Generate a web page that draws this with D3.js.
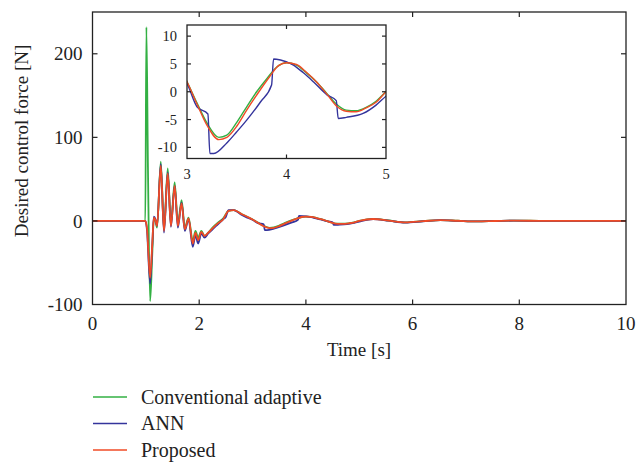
<!DOCTYPE html>
<meta charset="utf-8">
<head>
<style>
  body { margin: 0; background: #fff; }
  svg { font-family: "Liberation Serif", "DejaVu Serif", serif; }
  .frame { fill: none; stroke: #222; stroke-width: 1.3px; }
  .tick-mark { stroke: #222; stroke-width: 1.2px; }
  .lbl { fill: #222; }
</style>
</head>
<body>
<div id="graph"></div>
<script src="https://d3js.org/d3.v7.min.js"></script>
<script>

// Conventional adaptive
var convT = [0, 0.99, 1.01, 1.04, 1.08, 1.12, 1.15, 1.18, 1.21, 1.28, 1.34, 1.41, 1.47, 1.54, 1.6, 1.67, 1.73, 1.8, 1.88, 1.93, 1.98, 2.04, 2.1, 2.17, 2.25, 2.35, 2.45, 2.55, 2.65, 2.8, 2.9,
  3.0, 3.1, 3.2, 3.32, 3.4, 3.5, 3.6, 3.7, 3.8, 3.9, 4.0, 4.1, 4.2, 4.3, 4.4, 4.5, 4.6, 4.7, 4.8, 4.9, 5.0,
  5.26, 5.55, 5.86, 6.2, 6.52, 6.85, 7.2, 7.55, 7.9, 8.5, 10];
var convF = [0, 0, 232, 60, -96, -40, 3, 0, -8, 71, -10, 63, -3, 46, -3, 25, -8, 4, -24, -12, -20, -12, -18, -14, -8, -2, 3, 12, 13, 8, 5,
  1.8, -2, -5.6, -8.2, -7.8, -5.5, -2.7, 0, 2.3, 4.4, 5.2, 4.8, 3.4, 1.8, -0.2, -2.2, -3.3, -3.4, -2.8, -1.7, 0,
  2.4, 0.5, -1.8, -0.3, 1, 0.2, -0.6, -0.1, 0.4, 0, 0];

// ANN
var annT = [0, 0.99, 1.02, 1.08, 1.12, 1.15, 1.18, 1.21, 1.28, 1.34, 1.41, 1.47, 1.54, 1.6, 1.67, 1.73, 1.8, 1.88, 1.93, 1.98, 2.04, 2.1, 2.17, 2.25, 2.35, 2.45, 2.5, 2.55, 2.65, 2.8, 2.9,
  3.0, 3.1, 3.21, 3.23, 3.27, 3.4, 3.5, 3.6, 3.74, 3.85, 3.87, 3.94, 4.07, 4.17, 4.27, 4.41, 4.5, 4.52, 4.6, 4.77, 4.9, 5.0,
  5.26, 5.55, 5.86, 6.2, 6.52, 6.85, 7.2, 7.55, 7.9, 8.5, 10];
var annF = [0, 0, -10, -75, -30, 5, 2, -6, 68, -14, 58, -7, 42, -8, 22, -12, 2, -31, -17, -27, -15, -20, -15, -10, -4, 2, 5, 13, 13, 7, 4,
  1.5, -2.7, -4, -11.1, -11.1, -9.2, -7.2, -5.1, -1.8, 1.2, 5.9, 5.7, 4.8, 3.4, 1.8, -0.6, -1.6, -4.8, -4.6, -3.9, -2.4, -0.8,
  2.2, 0.3, -2, -0.4, 0.9, 0.1, -0.6, -0.1, 0.3, 0, 0];

// Proposed
var propT = [0, 0.99, 1.02, 1.08, 1.12, 1.15, 1.18, 1.21, 1.28, 1.34, 1.41, 1.47, 1.54, 1.6, 1.67, 1.73, 1.8, 1.88, 1.93, 1.98, 2.04, 2.1, 2.17, 2.25, 2.35, 2.45, 2.55, 2.65, 2.8, 2.9,
  3.0, 3.1, 3.2, 3.32, 3.4, 3.5, 3.6, 3.7, 3.83, 3.92, 4.0, 4.1, 4.2, 4.3, 4.4, 4.51, 4.6, 4.7, 4.8, 4.9, 5.0,
  5.26, 5.55, 5.86, 6.2, 6.52, 6.85, 7.2, 7.55, 7.9, 8.5, 10];
var propF = [0, 0, -8, -68, -28, 4, 1, -6, 66, -12, 57, -6, 42, -6, 21, -10, 3, -27, -14, -23, -13, -18, -14, -9, -3, 2, 12, 13, 8, 5,
  1.8, -2.2, -6, -8.6, -8.2, -6.2, -3.3, -0.6, 2.7, 4.7, 5.2, 4.9, 3.5, 1.8, -0.3, -2.7, -3.5, -3.6, -2.9, -1.9, 0,
  2.3, 0.4, -1.8, -0.3, 1, 0.2, -0.6, -0.1, 0.4, 0, 0];

var seriesNames = ["Conventional adaptive", "ANN", "Proposed"];
var seriesColors = ["#33b043", "#34349c", "#f04b26"];

var xTicks = [0, 2, 4, 6, 8, 10];
var yTicks = [-100, 0, 100, 200];
var insetXTicks = [3, 4, 5];
var insetYTicks = [-10, -5, 0, 5, 10];

var series = [
  {name: seriesNames[0], color: seriesColors[0], pts: d3.zip(convT, convF)},
  {name: seriesNames[1], color: seriesColors[1], pts: d3.zip(annT, annF)},
  {name: seriesNames[2], color: seriesColors[2], pts: d3.zip(propT, propF)}
];

var W = 638, H = 465;
var svg = d3.select("#graph").append("svg")
  .attr("width", W)
  .attr("height", H);

// main plot
var x = d3.scaleLinear().domain([0, 10]).range([92.5, 626]);
var y = d3.scaleLinear().domain([-100, 250]).range([304.5, 12]);

function boxAxes(g, xs, ys, xt, yt, tickLen, fontSize, xPad, yPad) {
  var x0 = xs.range()[0], x1 = xs.range()[1];
  var y0 = ys.range()[0], y1 = ys.range()[1];
  xt.forEach(function(v){
    var px = xs(v);
    if (v != xs.domain()[0] && v != xs.domain()[1]) {
      g.append("line").attr("class", "tick-mark").attr("x1", px).attr("x2", px).attr("y1", y0).attr("y2", y0 - tickLen);
      g.append("line").attr("class", "tick-mark").attr("x1", px).attr("x2", px).attr("y1", y1).attr("y2", y1 + tickLen);
    }
    g.append("text").attr("class", "lbl")
      .attr("x", px).attr("y", y0 + yPad)
      .attr("text-anchor", "middle")
      .style("font-size", fontSize + "px")
      .text(v);
  });
  yt.forEach(function(v){
    var py = ys(v);
    if (v != ys.domain()[0]) {
      g.append("line").attr("class", "tick-mark").attr("x1", x0).attr("x2", x0 + tickLen).attr("y1", py).attr("y2", py);
      g.append("line").attr("class", "tick-mark").attr("x1", x1).attr("x2", x1 - tickLen).attr("y1", py).attr("y2", py);
    }
    g.append("text").attr("class", "lbl")
      .attr("x", x0 - xPad).attr("y", py)
      .attr("dy", "0.35em")
      .attr("text-anchor", "end")
      .style("font-size", fontSize + "px")
      .text(v);
  });
  g.append("rect").attr("class", "frame")
    .attr("x", x0).attr("y", y1)
    .attr("width", x1 - x0).attr("height", y0 - y1);
}

svg.append("clipPath").attr("id", "mainclip")
  .append("rect").attr("x", 92.5).attr("y", 12).attr("width", 626 - 92.5).attr("height", 304.5 - 12);

var line = d3.line()
  .x(function(d){ return x(d[0]); })
  .y(function(d){ return y(d[1]); })
  .curve(d3.curveMonotoneX);

var plot = svg.append("g").attr("clip-path", "url(#mainclip)");
series.forEach(function(s){
  plot.append("path")
    .datum(s.pts)
    .attr("fill", "none")
    .attr("stroke", s.color)
    .attr("stroke-width", 1.8)
    .attr("stroke-linejoin", "round")
    .attr("d", line);
});

boxAxes(svg.append("g"), x, y, xTicks, yTicks, 5, 19, 10, 25);

svg.append("text").attr("class", "lbl")
  .attr("x", 359).attr("y", 356)
  .attr("text-anchor", "middle")
  .style("font-size", "19px")
  .text("Time [s]");

svg.append("text").attr("class", "lbl")
  .attr("transform", "translate(28,141) rotate(-90)")
  .attr("text-anchor", "middle")
  .style("font-size", "19px")
  .text("Desired control force [N]");

// inset
var ix = d3.scaleLinear().domain([3, 5]).range([187, 386]);
var iy = d3.scaleLinear().domain([-12, 12]).range([158.5, 25]);

svg.append("rect")
  .attr("x", 187).attr("y", 25).attr("width", 199).attr("height", 133.5)
  .attr("fill", "#fff");

svg.append("clipPath").attr("id", "insetclip")
  .append("rect").attr("x", 187).attr("y", 25).attr("width", 199).attr("height", 133.5);

var iline = d3.line()
  .x(function(d){ return ix(d[0]); })
  .y(function(d){ return iy(d[1]); })
  .curve(d3.curveMonotoneX);

var inset = svg.append("g").attr("clip-path", "url(#insetclip)");
series.forEach(function(s){
  inset.append("path")
    .datum(s.pts.filter(function(d){ return d[0] >= 2.8 && d[0] <= 5.3; }))
    .attr("fill", "none")
    .attr("stroke", s.color)
    .attr("stroke-width", 1.4)
    .attr("d", iline);
});

boxAxes(svg.append("g"), ix, iy, insetXTicks, insetYTicks, 4, 14.5, 10, 20);

// legend
var legend = svg.append("g");
series.forEach(function(s, i){
  var ly = 397 + i * 26.5;
  legend.append("line")
    .attr("x1", 93).attr("x2", 127)
    .attr("y1", ly).attr("y2", ly)
    .attr("stroke", s.color)
    .attr("stroke-width", 1.3);
  legend.append("text").attr("class", "lbl")
    .attr("x", 141).attr("y", ly + 6.5)
    .style("font-size", "20px")
    .text(s.name);
});

</script>
</body>
</html>
